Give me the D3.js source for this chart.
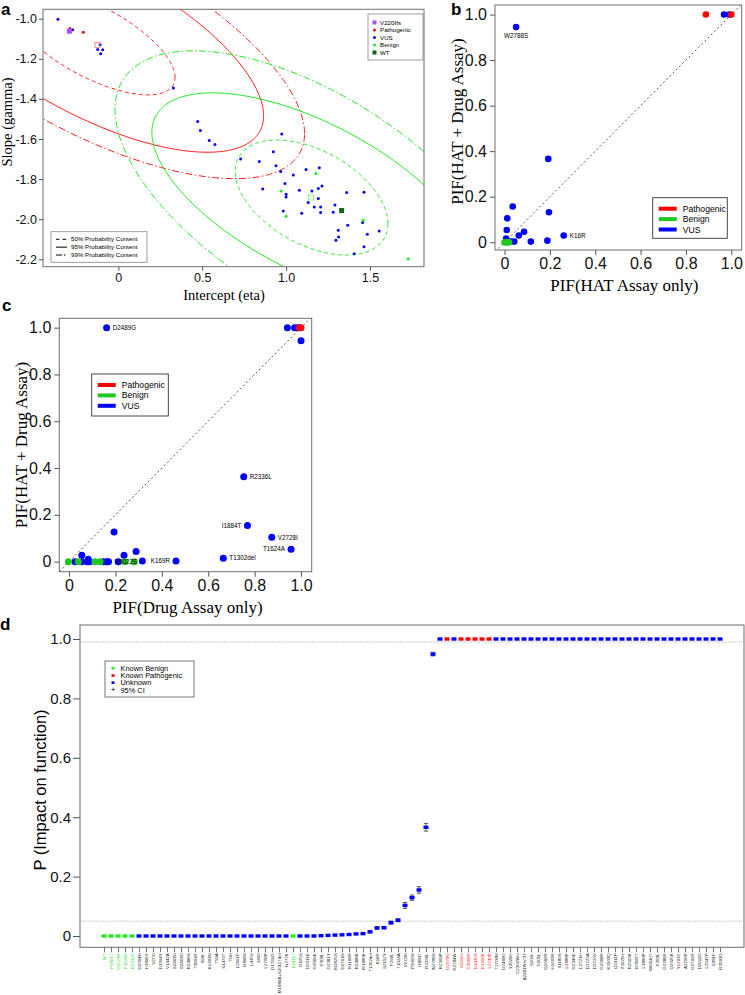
<!DOCTYPE html>
<html><head><meta charset="utf-8">
<script src="https://cdn.jsdelivr.net/npm/d3@7"></script>
<style>body{margin:0;background:#fff;}svg{display:block;}</style>
</head><body>
<svg id="fig" width="745" height="995"></svg>
<script>
// ---------------- DATA ----------------
// Panel a: intercept (eta) / slope (gamma)
const aVUS = [[-0.36,-1.003],[-0.272,-1.055],[-0.109,-1.13],[-0.123,-1.153],[-0.093,-1.155],[-0.105,-1.175],
  [0.328,-1.345],[0.473,-1.513],[0.489,-1.558],[0.542,-1.608],[0.576,-1.628],[0.974,-1.575],[0.729,-1.70],
  [0.840,-1.712],[0.924,-1.663],[0.940,-1.733],[0.968,-1.762],[1.043,-1.78],[1.119,-1.752],[1.198,-1.744],
  [0.993,-1.822],[0.861,-1.85],[1.0,-1.876],[1.0,-1.889],[1.079,-1.856],[1.154,-1.859],[1.192,-1.847],
  [1.214,-1.834],[1.132,-1.917],[1.192,-1.897],[1.168,-1.939],[1.206,-1.939],[1.206,-1.967],[1.093,-1.97],
  [0.983,-1.959],[1.291,-1.929],[1.281,-1.965],[1.361,-1.867],[1.464,-1.865],[1.367,-2.03],[1.456,-2.017],
  [1.311,-2.055],[1.313,-2.089],[1.297,-2.105],[1.484,-2.075],[1.555,-2.059],[1.464,-2.137],[1.406,-2.172]];
const aPathogenic = [[-0.288,-1.049],[-0.209,-1.067]];
const aPathogenicOpen = [[-0.125,-1.13]];
const aBenign = [[1.178,-1.772],[0.970,-1.859],[1.0,-1.985],[1.46,-2.005],[1.728,-2.197]];
const aBenignOpen = [[1.148,-1.892]];
const aV220 = [[-0.292,-1.062]];
const aWT = [[1.331,-1.957]];
const aLegendNames = ["V220Ifs","Pathogenic","VUS","Benign","WT"];
const aXTicks = [0,0.5,1.0,1.5];
const aYTicks = [-1.0,-1.2,-1.4,-1.6,-1.8,-2.0,-2.2];
const contourNames = ["50% Probability Content","95% Probability Content","99% Probability Content"];
// contour ellipses: centre, half-width (eta), half-height (gamma), correlation
const redContours = [
  {level:0, cx:-0.15, cy:-1.115, rx:0.488, ry:0.265, rho:-0.67},
  {level:1, cx:-0.15, cy:-1.115, rx:1.016, ry:0.551, rho:-0.67},
  {level:2, cx:-0.15, cy:-1.115, rx:1.26,  ry:0.683, rho:-0.67}];
const greenContours = [
  {level:0, cx:1.152, cy:-1.892, rx:0.455, ry:0.287, rho:-0.455},
  {level:1, cx:1.15,  cy:-1.89,  rx:0.95,  ry:0.52,  rho:-0.62},
  {level:2, cx:1.15,  cy:-1.89,  rx:1.17,  ry:0.73,  rho:-0.6}];

// Panel b: PIF(HAT Assay only) vs PIF(HAT + Drug Assay)
const bPathogenic = [[0.888,1.0],[1.0,1.0]];
const bBenign = [[0.0,0],[0.004,0],[0.008,0],[0.012,0],[0.016,0],[0.02,0]];
const bVUS = [[0.968,1],[0.991,1],[0.051,0.945],[0.193,0.366],[0.036,0.157],[0.196,0.132],[0.012,0.105],
  [0.01,0.054],[0.086,0.046],[0.063,0.03],[0.261,0.03],[0.007,0.016],[0.189,0.007],[0.116,0.003],
  [0.043,0.003],[0.029,0.003],[0.018,0.003]];
const bLabels = [{name:"W2788S", x:0.051, y:0.945, side:"below"},{name:"K16R", x:0.261, y:0.03, side:"right"}];
const pifTicks = [0,0.2,0.4,0.6,0.8,1.0];
const classNames = ["Pathogenic","Benign","VUS"];

// Panel c: PIF(Drug Assay only) vs PIF(HAT + Drug Assay)
const cPathogenic = [[0.993,1.0],[1.0,1.0]];
const cVUS = [[0.162,1.0],[0.941,1],[0.972,1],[0.985,1],[1.0,0.944],[0.753,0.363],[0.769,0.154],[0.874,0.104],
  [0.957,0.053],[0.665,0.015],[0.461,0.003],[0.316,0.003],[0.289,0.043],[0.194,0.127],[0.237,0.027],
  [0.055,0.027],[0.083,0.01],[0.026,0],[0.055,0],[0.079,0],[0.088,0],[0.148,0],[0.162,0],[0.17,0],[0.212,0]];
const cBenign = [[-0.003,0],[0.04,0],[0.112,0],[0.134,0],[0.241,0],[0.281,0]];
const cLabels = [{name:"D2489G",x:0.162,y:1.0,side:"right"},{name:"R2336L",x:0.753,y:0.363,side:"right"},
  {name:"I1884T",x:0.769,y:0.154,side:"left"},{name:"V2728I",x:0.874,y:0.104,side:"right"},
  {name:"T1624A",x:0.957,y:0.053,side:"left"},{name:"T1302del",x:0.665,y:0.015,side:"right"},
  {name:"K169R",x:0.461,y:0.003,side:"left"},{name:"N3022S",x:0.17,y:0,side:"right"}];

// Panel d: P(impact on function) per variant
const dVariants = ["WT","P1961T","G1523R","F1524V","D2312V","D2304N","H1896Y","V273I","D3094Y","V1442A",
  "S2463N","S2463D","R2486S","T3801R","S90L","K1303N","T59A","S1470T","T59I","L2501F",
  "N868S","L435V","N66I","L2708P","D1761G","M1880A+S2011Tdel","N277K","K2411T","G925S","D2311E",
  "G3066E","F309L","G2381Y","M2825S","D1761N","K1169R","R2488K","M1880K","T1302del","K16R",
  "S2152Y","F296L","T1624A","V2728I","P3063S","I1884T","R2336L","W2788S","R2369P","D2079G",
  "R2784W","V220Ifs","C3060R","D1435Y","E1306K","L2740P","T2706M","D2480G","Y3026H","C2302Wfs",
  "A2491Wfs*37","S201L","C605L","Q1092R","H1603R","S1180S","L2888P","G2346E","L2721H","D2723A",
  "D2723V","G2368R","K2603Q","Q2411P","Y3025fs","R2563K","R3587T","L3889P","6063delT","F283L",
  "G2380R","Q2025K","Y1703C","A2706P","G2702R","D2611G","L2547P","S381F","R3593G"];
const dP = [0,0,0,0,0,0,0,0,0,0, 0,0,0,0,0,0,0,0,0,0, 0,0,0,0,0,0,0,0,0,0,
  0,0.001,0.002,0.003,0.004,0.005,0.007,0.008,0.014,0.027, 0.028,0.045,0.053,0.103,0.129,0.155,0.366,0.949,1,1,
  1,1,1,1,1,1,1,1,1,1, 1,1,1,1,1,1,1,1,1,1, 1,1,1,1,1,1,1,1,1,1, 1,1,1,1,1,1,1,1,1];
const dCI = [0,0,0,0,0,0,0,0,0,0, 0,0,0,0,0,0,0,0,0,0, 0,0,0,0,0,0,0,0,0,0,
  0,0,0,0,0,0,0,0,0.003,0.004, 0.004,0.005,0.005,0.010,0.009,0.011,0.013,0.006,0,0,
  0,0,0,0,0,0,0,0,0,0, 0,0,0,0,0,0,0,0,0,0, 0,0,0,0,0,0,0,0,0,0, 0,0,0,0,0,0,0,0,0];
const dClass = ["B","B","B","B","B","U","U","U","U","U", "U","U","U","U","U","U","U","U","U","U",
  "U","U","U","U","U","U","U","B","U","U", "U","U","U","U","U","U","U","U","U","U",
  "U","U","U","U","U","U","U","U","U","P", "U","P","P","P","P","P","U","U","U","U",
  "U","U","U","U","U","U","U","U","U","U", "U","U","U","U","U","U","U","U","U","U",
  "U","U","U","U","U","U","U","U","U"];
const dThresholds = [0.99, 0.05];
const dYTicks = [0,0.2,0.4,0.6,0.8,1.0];
const dLegendNames = ["Known Benign","Known Pathogenic","Unknown","95% CI"];

// ---------------- DRAWING ----------------
const SANS = "'Liberation Sans', Arial, Helvetica, sans-serif";
const SERIF = "'Liberation Serif', 'Times New Roman', serif";
const svg = d3.select("#fig");
const FRAME = "#6e6e6e";
const fmt = d => (d === 0 ? "0" : d.toFixed(1));

function styleAxis(g, size) {
  g.select(".domain").remove();
  g.selectAll(".tick line").attr("stroke", "#555");
  g.selectAll(".tick text").attr("font-family", SANS).attr("font-size", size).attr("fill", "#111");
}
function panelLetter(t, x, y) {
  svg.append("text").attr("x", x).attr("y", y).text(t)
    .attr("font-family", SANS).attr("font-weight", "bold").attr("font-size", 17);
}
function frame(g, xs, ys) {
  g.append("rect").attr("x", xs.range()[0]).attr("y", ys.range()[1])
    .attr("width", xs.range()[1]-xs.range()[0]).attr("height", ys.range()[0]-ys.range()[1])
    .attr("fill", "none").attr("stroke", FRAME).attr("stroke-width", 1);
}

// ===== Panel a =====
{
  const x = d3.scaleLinear().domain([-0.449, 1.822]).range([43, 424]);
  const y = d3.scaleLinear().domain([-2.237, -0.953]).range([266.7, 9.3]);
  const g = svg.append("g");
  g.append("clipPath").attr("id", "clipA").append("rect")
    .attr("x", 43).attr("y", 9.3).attr("width", 381).attr("height", 257.4);
  const dash = ["4,3", null, "7,2.5,1.5,2.5"];
  const ell = e => {
    const pts = d3.range(0, 361, 1).map(deg => {
      const t = deg * Math.PI / 180, c = Math.cos(t), s = Math.sin(t);
      return [x(e.cx + e.rx * c), y(e.cy + e.ry * (e.rho * c + Math.sqrt(1 - e.rho * e.rho) * s))];
    });
    return d3.line()(pts);
  };
  const cg = g.append("g").attr("clip-path", "url(#clipA)");
  [[redContours, "#ff1a1a"], [greenContours, "#22e622"]].forEach(([arr, col]) => {
    cg.selectAll(null).data(arr).enter().append("path")
      .attr("d", ell).attr("fill", "none").attr("stroke", col).attr("stroke-width", 1)
      .attr("stroke-dasharray", d => dash[d.level]);
  });
  const dots = (data, col, r) => cg.selectAll(null).data(data).enter().append("circle")
    .attr("cx", d => x(d[0])).attr("cy", d => y(d[1])).attr("r", r).attr("fill", col);
  dots(aVUS, "#0000ff", 1.5);
  dots(aBenign, "#22e622", 1.5);
  dots(aPathogenic, "#ff0000", 1.5);
  cg.selectAll(null).data(aPathogenicOpen).enter().append("rect")
    .attr("x", d => x(d[0]) - 2.5).attr("y", d => y(d[1]) - 2.5).attr("width", 5).attr("height", 5)
    .attr("fill", "none").attr("stroke", "#ff7070").attr("stroke-width", 0.8);
  cg.selectAll(null).data(aBenignOpen).enter().append("rect")
    .attr("x", d => x(d[0]) - 2.5).attr("y", d => y(d[1]) - 2.5).attr("width", 5).attr("height", 5)
    .attr("fill", "none").attr("stroke", "#66ee66").attr("stroke-width", 0.8);
  cg.selectAll(null).data(aV220).enter().append("rect")
    .attr("x", d => x(d[0]) - 2.5).attr("y", d => y(d[1]) - 2.5).attr("width", 5).attr("height", 5)
    .attr("fill", "#a64dff");
  cg.selectAll(null).data(aWT).enter().append("rect")
    .attr("x", d => x(d[0]) - 2.5).attr("y", d => y(d[1]) - 2.5).attr("width", 5).attr("height", 5)
    .attr("fill", "#116611");
  frame(g, x, y);
  const ya = g.append("g").attr("transform", "translate(43,0)")
    .call(d3.axisLeft(y).tickValues(aYTicks).tickFormat(d => d.toFixed(1)).tickSize(4).tickPadding(2));
  styleAxis(ya, 12.5);
  const xa = g.append("g").attr("transform", "translate(0,266.7)")
    .call(d3.axisBottom(x).tickValues(aXTicks).tickFormat(d => d === 0 ? "0" : d.toFixed(1)).tickSize(4).tickPadding(2));
  styleAxis(xa, 12.5);
  g.append("text").attr("x", 224).attr("y", 300).attr("text-anchor", "middle")
    .attr("font-family", SERIF).attr("font-size", 14.5).text("Intercept (eta)");
  g.append("text").attr("transform", "translate(12,122) rotate(-90)").attr("text-anchor", "middle")
    .attr("font-family", SERIF).attr("font-size", 14.5).text("Slope (gamma)");
  // legend (classes)
  const lg = g.append("g");
  lg.append("rect").attr("x", 368).attr("y", 14).attr("width", 55).attr("height", 46)
    .attr("fill", "#fff").attr("stroke", "#888").attr("stroke-width", 0.8);
  const lcol = ["#a64dff", "#ff0000", "#0000ff", "#22e622", "#116611"];
  const lsh = ["sq", "c", "c", "c", "sq"];
  aLegendNames.forEach((n, i) => {
    const yy = 22.5 + i * 7.5;
    if (lsh[i] === "sq") lg.append("rect").attr("x", 372.5).attr("y", yy - 2).attr("width", 4).attr("height", 4).attr("fill", lcol[i]);
    else lg.append("circle").attr("cx", 374.5).attr("cy", yy).attr("r", 1.5).attr("fill", lcol[i]);
    lg.append("text").attr("x", 380).attr("y", yy + 2.1).attr("font-family", SANS).attr("font-size", 6.2).text(n);
  });
  // legend (contours)
  const lc = g.append("g");
  lc.append("rect").attr("x", 51).attr("y", 231.7).attr("width", 96).attr("height", 30.6)
    .attr("fill", "#fff").attr("stroke", "#888").attr("stroke-width", 0.8);
  const ldash = ["3.5,3", null, "6,2,1.5,2"];
  contourNames.forEach((n, i) => {
    const yy = 239.3 + i * 7.85;
    lc.append("line").attr("x1", 56).attr("x2", 67).attr("y1", yy).attr("y2", yy)
      .attr("stroke", "#000").attr("stroke-width", 1).attr("stroke-dasharray", ldash[i]);
    lc.append("text").attr("x", 71).attr("y", yy + 2.1).attr("font-family", SANS).attr("font-size", 6.2).text(n);
  });
  panelLetter("a", 1, 15);
}

// ===== scatter panels b and c =====
function pifPanel(opt) {
  const x = d3.scaleLinear().domain(opt.xd).range(opt.xr);
  const y = d3.scaleLinear().domain(opt.yd).range(opt.yr);
  const g = svg.append("g");
  const cid = "clip" + opt.id;
  g.append("clipPath").attr("id", cid).append("rect")
    .attr("x", opt.xr[0]).attr("y", opt.yr[1]).attr("width", opt.xr[1] - opt.xr[0]).attr("height", opt.yr[0] - opt.yr[1]);
  const pg = g.append("g").attr("clip-path", `url(#${cid})`);
  pg.append("line").attr("x1", x(opt.xd[0])).attr("y1", y(opt.xd[0])).attr("x2", x(opt.xd[1])).attr("y2", y(opt.xd[1]))
    .attr("stroke", "#444").attr("stroke-width", 0.9).attr("stroke-dasharray", "2,2.5");
  const dots = (data, col) => pg.selectAll(null).data(data).enter().append("circle")
    .attr("cx", d => x(d[0])).attr("cy", d => y(d[1])).attr("r", opt.r).attr("fill", col);
  dots(opt.vus, "#0000ff");
  dots(opt.benign, "#1ec81e");
  dots(opt.path, "#ff0000");
  g.selectAll(null).data(opt.labels).enter().append("text")
    .attr("x", d => d.side === "left" ? x(d.x) - 6 : d.side === "below" ? x(d.x) : x(d.x) + 6)
    .attr("y", d => d.side === "below" ? y(d.y) + 11 : y(d.y) + 2.2)
    .attr("text-anchor", d => d.side === "left" ? "end" : d.side === "below" ? "middle" : "start")
    .attr("font-family", SANS).attr("font-size", 6.3).text(d => d.name);
  frame(g, x, y);
  const ya = g.append("g").attr("transform", `translate(${opt.xr[0]},0)`)
    .call(d3.axisLeft(y).tickValues(pifTicks).tickFormat(fmt).tickSize(5).tickPadding(3));
  styleAxis(ya, 16);
  const xa = g.append("g").attr("transform", `translate(0,${opt.yr[0]})`)
    .call(d3.axisBottom(x).tickValues(pifTicks).tickFormat(fmt).tickSize(5).tickPadding(3));
  styleAxis(xa, 16);
  const cx = (opt.xr[0] + opt.xr[1]) / 2, cy = (opt.yr[0] + opt.yr[1]) / 2;
  g.append("text").attr("x", cx + opt.xlOff).attr("y", opt.yr[0] + 41).attr("text-anchor", "middle")
    .attr("font-family", SERIF).attr("font-size", 17).text(opt.xlab);
  g.append("text").attr("transform", `translate(${opt.xr[0] - 32},${cy + opt.ylOff}) rotate(-90)`).attr("text-anchor", "middle")
    .attr("font-family", SERIF).attr("font-size", 17).text("PIF(HAT + Drug Assay)");
  // legend
  const L = opt.leg;
  const lg = g.append("g");
  lg.append("rect").attr("x", L[0]).attr("y", L[1]).attr("width", L[2]).attr("height", L[3])
    .attr("fill", "#fff").attr("stroke", "#333").attr("stroke-width", 0.9);
  const cols = ["#ff0000", "#1ec81e", "#0000ff"];
  classNames.forEach((n, i) => {
    const yy = L[1] + 11 + i * 10.4;
    lg.append("line").attr("x1", L[0] + 6).attr("x2", L[0] + 24).attr("y1", yy).attr("y2", yy)
      .attr("stroke", cols[i]).attr("stroke-width", 4);
    lg.append("text").attr("x", L[0] + 30).attr("y", yy + 3).attr("font-family", SANS).attr("font-size", 8.6).text(n);
  });
}
pifPanel({id: "B", xd: [-0.042, 1.046], xr: [495, 741.7], yd: [-0.034, 1.042], yr: [250, 5], r: 3.3,
  vus: bVUS, benign: bBenign, path: bPathogenic, labels: bLabels, xlab: "PIF(HAT Assay only)", xlOff: 6, ylOff: -6,
  leg: [652.7, 197.7, 74.6, 40.6]});
pifPanel({id: "C", xd: [-0.042, 1.046], xr: [59.3, 311.7], yd: [-0.043, 1.04], yr: [571.7, 318.3], r: 3.5,
  vus: cVUS, benign: cBenign, path: cPathogenic, labels: cLabels, xlab: "PIF(Drug Assay only)", xlOff: 2, ylOff: 0,
  leg: [91.7, 374, 76.6, 42]});
panelLetter("b", 451, 15);
panelLetter("c", 2, 311);

// ===== Panel d =====
{
  const x = d3.scaleLinear().domain([0, dVariants.length - 1]).range([104, 720]);
  const y = d3.scaleLinear().domain([0, 1]).range([936, 639]);
  const g = svg.append("g");
  g.append("rect").attr("x", 80).attr("y", 625).attr("width", 664).attr("height", 322.3)
    .attr("fill", "none").attr("stroke", FRAME).attr("stroke-width", 1);
  g.selectAll(null).data(dThresholds).enter().append("line")
    .attr("x1", 81).attr("x2", 743).attr("y1", d => y(d)).attr("y2", d => y(d))
    .attr("stroke", "#999").attr("stroke-width", 0.8).attr("stroke-dasharray", "1,1.2");
  const idx = d3.range(dVariants.length);
  const col = {B: "#22ee22", P: "#ff0000", U: "#0000ff"};
  const withCI = idx.filter(i => dCI[i] > 0);
  const eb = g.selectAll(null).data(withCI).enter().append("g").attr("stroke", "#333").attr("stroke-width", 0.8);
  eb.append("line").attr("x1", i => x(i)).attr("x2", i => x(i)).attr("y1", i => y(dP[i] - dCI[i])).attr("y2", i => y(dP[i] + dCI[i]));
  eb.append("line").attr("x1", i => x(i) - 2.2).attr("x2", i => x(i) + 2.2).attr("y1", i => y(dP[i] - dCI[i])).attr("y2", i => y(dP[i] - dCI[i]));
  eb.append("line").attr("x1", i => x(i) - 2.2).attr("x2", i => x(i) + 2.2).attr("y1", i => y(dP[i] + dCI[i])).attr("y2", i => y(dP[i] + dCI[i]));
  g.selectAll(null).data(idx).enter().append("rect")
    .attr("x", i => x(i) - 2.5).attr("y", i => y(dP[i]) - 1.7).attr("width", 5).attr("height", 3.4)
    .attr("fill", i => col[dClass[i]]);
  const ya = g.append("g").attr("transform", "translate(80,0)")
    .call(d3.axisLeft(y).tickValues(dYTicks).tickFormat(fmt).tickSize(7).tickPadding(2));
  styleAxis(ya, 15);
  const xa = g.append("g").attr("transform", "translate(0,947.3)")
    .call(d3.axisBottom(x).tickValues(idx).tickFormat(i => dVariants[i]).tickSize(5).tickPadding(2));
  xa.select(".domain").remove();
  xa.selectAll(".tick line").attr("stroke", "#555").attr("stroke-width", 0.8);
  xa.selectAll(".tick text").attr("transform", "rotate(-90)").attr("x", -6).attr("y", 0).attr("dy", "0.35em")
    .attr("text-anchor", "end").attr("font-family", SANS).attr("font-size", 4.4)
    .attr("fill", i => dClass[i] === "B" ? "#22dd22" : dClass[i] === "P" ? "#ff2020" : "#222");
  g.append("text").attr("transform", "translate(46,790) rotate(-90)").attr("text-anchor", "middle")
    .attr("font-family", SANS).attr("font-size", 16.5).text("P (Impact on function)");
  // legend
  const lg = g.append("g");
  lg.append("rect").attr("x", 105).attr("y", 661).attr("width", 89).attr("height", 36)
    .attr("fill", "#fff").attr("stroke", "#555").attr("stroke-width", 0.8);
  const lcol = ["#22ee22", "#ff0000", "#0000ff"];
  dLegendNames.forEach((n, i) => {
    const yy = 668.3 + i * 7.2;
    if (i < 3) lg.append("rect").attr("x", 111.5).attr("y", yy - 1.3).attr("width", 3).attr("height", 2.6).attr("fill", lcol[i]);
    else lg.append("text").attr("x", 113).attr("y", yy + 2.5).attr("text-anchor", "middle").attr("font-family", SANS).attr("font-size", 8).text("+");
    lg.append("text").attr("x", 120.5).attr("y", yy + 2.6).attr("font-family", SANS).attr("font-size", 7.4).text(n);
  });
  panelLetter("d", 0, 630);
}
</script>
</body></html>
